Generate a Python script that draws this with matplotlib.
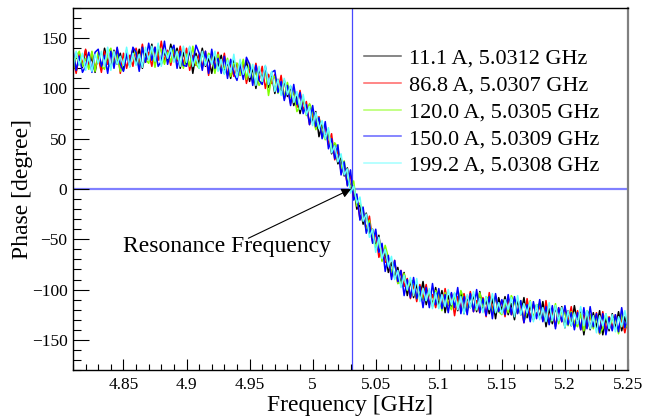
import numpy as np
import matplotlib
matplotlib.use("Agg")
import matplotlib.pyplot as plt
from matplotlib.ticker import MultipleLocator

plt.rcParams['font.family'] = ['Liberation Serif', 'DejaVu Serif']
plt.rcParams['axes.unicode_minus'] = True

# frequency sweep, 4.81 .. 5.25 GHz in 2.5 MHz steps
freq = np.linspace(4.81, 5.25, 177)

phase_11A = [134, 117, 131, 121, 138, 122, 131, 116, 134, 119, 140, 126, 121, 138, 124, 135,
             118, 134, 127, 139, 125, 139, 120, 135, 128, 144, 125, 139, 124, 136, 127, 144,
             129, 140, 120, 136, 123, 139, 115, 135, 124, 140, 122, 130, 115, 132, 122, 133,
             115, 127, 110, 128, 113, 127, 112, 128, 107, 121, 100, 119, 110, 120, 101, 114,
             95, 109, 95, 108, 92, 102, 83, 92, 75, 89, 76, 84, 66, 77, 52, 64,
             52, 57, 35, 44, 25, 31, 13, 21, 0, 3, -20, -16, -35, -24, -44, -40,
             -58, -46, -71, -63, -83, -73, -88, -78, -95, -83, -106, -91, -108, -95, -108, -92,
             -115, -102, -116, -98, -116, -101, -123, -106, -117, -104, -121, -102, -124, -107, -118, -105,
             -122, -102, -120, -110, -124, -109, -129, -108, -121, -107, -125, -114, -130, -110, -125, -108,
             -128, -115, -130, -115, -128, -112, -137, -119, -134, -117, -131, -117, -138, -121, -136, -116,
             -134, -120, -145, -124, -140, -123, -138, -121, -145, -128, -141, -124, -139, -122, -141, -127,
             -140]

phase_87A = [131, 115, 135, 124, 139, 121, 136, 119, 131, 116, 137, 124, 137, 126, 140, 115,
             135, 120, 133, 122, 140, 126, 144, 126, 136, 122, 141, 128, 147, 127, 138, 123,
             138, 127, 142, 123, 140, 118, 133, 123, 134, 121, 137, 113, 135, 120, 136, 119,
             135, 113, 124, 112, 125, 113, 126, 105, 119, 107, 125, 108, 122, 100, 114, 105,
             114, 98, 113, 90, 102, 85, 98, 81, 98, 78, 87, 64, 75, 60, 72, 53,
             63, 44, 55, 29, 39, 17, 24, 4, 14, -9, -8, -30, -22, -41, -27, -52,
             -44, -68, -57, -73, -71, -87, -71, -94, -81, -97, -89, -109, -95, -112, -95, -110,
             -95, -115, -105, -118, -104, -119, -99, -116, -104, -126, -107, -119, -104, -118, -102, -122,
             -111, -123, -108, -127, -103, -121, -107, -121, -111, -127, -108, -125, -110, -123, -116, -133,
             -109, -129, -115, -126, -116, -131, -111, -133, -122, -137, -118, -132, -118, -132, -117, -137,
             -121, -140, -125, -138, -126, -137, -123, -144, -122, -141, -127, -138, -125, -142, -129, -143,
             -126]

phase_120A = [117, 132, 137, 122, 130, 119, 137, 117, 136, 123, 119, 135, 140, 123, 134, 117,
              124, 138, 122, 133, 137, 120, 140, 129, 125, 138, 121, 142, 138, 124, 136, 126,
              141, 129, 137, 120, 134, 122, 142, 124, 120, 135, 125, 135, 132, 115, 134, 118,
              120, 130, 112, 125, 125, 113, 129, 109, 125, 109, 117, 103, 108, 119, 93, 111,
              112, 95, 106, 91, 106, 91, 98, 77, 82, 91, 73, 85, 77, 59, 71, 56,
              49, 58, 39, 46, 41, 20, 28, 7, 2, 8, -17, -14, -21, -42, -31, -51,
              -57, -49, -72, -56, -68, -83, -73, -94, -93, -84, -101, -92, -91, -109, -98, -110,
              -111, -101, -117, -101, -105, -121, -103, -114, -120, -106, -117, -101, -110, -122, -105, -119,
              -120, -103, -117, -107, -110, -123, -106, -122, -125, -113, -123, -106, -112, -123, -111, -131,
              -123, -111, -129, -116, -114, -129, -120, -133, -130, -114, -134, -120, -124, -136, -122, -133,
              -137, -124, -141, -121, -125, -139, -127, -144, -139, -124, -138, -130, -128, -144, -124, -138,
              -135]

phase_150A = [138, 118, 132, 116, 122, 136, 116, 136, 139, 122, 133, 115, 137, 120, 141, 124,
              117, 135, 122, 141, 136, 117, 141, 126, 145, 128, 141, 122, 127, 147, 124, 137,
              143, 120, 137, 123, 122, 141, 125, 143, 135, 118, 137, 115, 139, 120, 130, 115,
              132, 110, 129, 115, 108, 124, 109, 131, 124, 103, 123, 108, 104, 122, 104, 116,
              118, 96, 107, 88, 103, 83, 104, 84, 96, 75, 84, 64, 83, 62, 71, 50,
              67, 40, 50, 30, 44, 14, 27, 3, 19, -11, -5, -31, -18, -44, -34, -54,
              -40, -63, -54, -82, -66, -90, -71, -92, -81, -106, -90, -108, -88, -109, -97, -118,
              -98, -118, -94, -115, -99, -119, -105, -123, -103, -118, -98, -124, -107, -125, -104, -122,
              -100, -123, -109, -126, -107, -129, -104, -122, -110, -125, -105, -125, -107, -124, -111, -133,
              -115, -132, -112, -129, -110, -132, -117, -135, -116, -139, -118, -132, -116, -135, -123, -140,
              -123, -140, -118, -139, -117, -137, -124, -143, -124, -145, -128, -141, -125, -142, -118, -138,
              -127]

phase_199A = [120, 137, 123, 135, 118, 132, 117, 134, 125, 137, 122, 141, 118, 137, 124, 132,
              123, 141, 121, 135, 123, 134, 121, 141, 128, 142, 127, 145, 122, 139, 130, 140,
              126, 137, 122, 142, 126, 142, 122, 132, 120, 137, 123, 133, 124, 137, 117, 129,
              114, 128, 116, 134, 111, 129, 114, 122, 111, 124, 103, 122, 107, 123, 104, 117,
              97, 109, 93, 110, 94, 103, 86, 97, 79, 94, 74, 82, 63, 76, 60, 68,
              50, 61, 36, 43, 27, 35, 14, 20, -4, 3, -14, -8, -32, -25, -48, -40,
              -63, -48, -69, -60, -77, -67, -90, -81, -98, -86, -100, -88, -106, -89, -112, -99,
              -111, -99, -119, -103, -119, -105, -117, -100, -115, -103, -120, -107, -124, -105, -118, -102,
              -120, -109, -123, -107, -120, -104, -123, -113, -124, -110, -120, -108, -127, -106, -125, -114,
              -123, -112, -132, -115, -130, -118, -132, -113, -131, -116, -131, -118, -138, -121, -136, -123,
              -134, -117, -136, -121, -139, -126, -143, -126, -136, -124, -139, -125, -142, -127, -137, -121,
              -138]

series = [phase_11A, phase_87A, phase_120A, phase_150A, phase_199A]
labels = ['11.1 A, 5.0312 GHz', '86.8 A, 5.0307 GHz', '120.0 A, 5.0305 GHz',
          '150.0 A, 5.0309 GHz', '199.2 A, 5.0308 GHz']
colors = ['black', '#ff0000', '#80ff00', '#0000ff', '#66ffff']

f_res = 5.031
xticks = [4.85, 4.9, 4.95, 5.0, 5.05, 5.1, 5.15, 5.2, 5.25]
xtick_labels = ['4.85', '4.9', '4.95', '5', '5.05', '5.1', '5.15', '5.2', '5.25']
yticks = [-150, -100, -50, 0, 50, 100, 150]

fig = plt.figure(figsize=(6.57, 4.2), dpi=100)
ax = fig.add_axes([73/657, 1 - 370/420, 555/657, 362/420])

ax.axhline(0, color='#8080ff', lw=1.6, zorder=1)
ax.axvline(f_res, color='#4848ff', lw=0.9, zorder=1)

for ph, lab, c in zip(series, labels, colors):
    ax.plot(freq, ph, color=c, lw=1.1, label=lab, zorder=2)

ax.set_xlim(4.81, 5.25)
ax.set_ylim(-180, 180)
ax.set_xticks(xticks)
ax.set_xticklabels(xtick_labels)
ax.set_yticks(yticks)
ax.xaxis.set_minor_locator(MultipleLocator(0.01))
ax.yaxis.set_minor_locator(MultipleLocator(10))
ax.tick_params(axis='both', which='both', direction='in', labelsize=12.5,
               top=False, right=False, width=0.8)
ax.tick_params(axis='y', which='major', length=11.5, pad=4)
ax.tick_params(axis='y', which='minor', length=5.8)
ax.tick_params(axis='x', which='major', length=7.9, pad=5)
ax.tick_params(axis='x', which='minor', length=4.3)

for s in ['left', 'bottom', 'top']:
    ax.spines[s].set_linewidth(1.0)
ax.spines['right'].set_color('#808080')
ax.spines['right'].set_linewidth(1.6)

ax.set_xlabel('Frequency [GHz]', fontsize=17, va='top')
ax.set_ylabel('Phase [degree]', fontsize=17)
ax.xaxis.set_label_coords(0.5, -0.068)
ax.yaxis.set_label_coords(-0.072, 0.5)

ax.annotate('', xy=(f_res - 0.0005, 0), xytext=(4.949, -49),
            arrowprops=dict(arrowstyle='-|>', color='black', lw=0.8,
                            mutation_scale=14, shrinkA=0, shrinkB=0), zorder=5)
ax.text(4.85, -57, 'Resonance Frequency', fontsize=17, va='center', ha='left')

leg = ax.legend(loc='upper left', bbox_to_anchor=(0.524, 0.889), frameon=False,
                fontsize=16, handlelength=1.67, handletextpad=0.36,
                labelspacing=0.28, borderpad=0, borderaxespad=0)
for h in leg.legend_handles:
    h.set_alpha(0.6)

fig.savefig('out.png', dpi=100)
